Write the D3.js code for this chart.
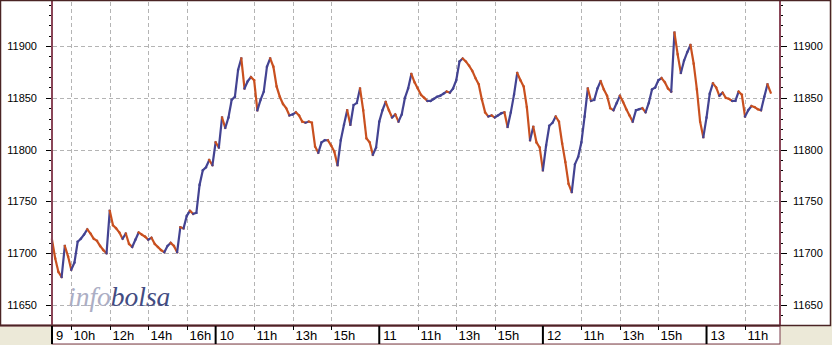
<!DOCTYPE html>
<html>
<head>
<meta charset="utf-8">
<script src="https://cdn.jsdelivr.net/npm/d3@7"></script>
<style>
  body { margin: 0; background: #ece9d8; }
  svg { display: block; }
</style>
</head>
<body>
<script>
// trading days shown and the hour marks under each of them
const dayLabels = ["9", "10", "11", "12", "13"];
const hourTicks = [[10, 12, 14, 16], [11, 13, 15], [11, 13, 15], [11, 13, 15], [11]];
const yTicks = [11650, 11700, 11750, 11800, 11850, 11900];

// 10-minute closes, one array per session (9:00 onwards)
const closes9 = [
  11713, 11695, 11682, 11677, 11707, 11697, 11684, 11691, 11711, 11714,
  11718, 11723, 11719, 11714, 11712, 11707, 11703, 11700, 11741, 11727,
  11724, 11720, 11714, 11719, 11709, 11706, 11713, 11720, 11718, 11716,
  11713, 11715, 11709, 11706, 11703, 11701, 11707, 11710, 11707, 11701,
  11725, 11724, 11736, 11741, 11738, 11739, 11766, 11780, 11783, 11790,
  11785
];
const closes10 = [
  11807, 11802, 11831, 11821, 11831, 11848, 11851, 11877, 11888, 11859,
  11866, 11870, 11867, 11838, 11848, 11856, 11880, 11888, 11880, 11861,
  11851, 11844, 11840, 11833, 11834, 11836, 11833, 11827, 11826, 11827,
  11826, 11803, 11797, 11807, 11809, 11809, 11804, 11798, 11785, 11809,
  11824, 11838, 11824, 11843, 11845, 11859, 11838, 11811, 11807, 11795,
  11802
];
const closes11 = [
  11827, 11838, 11846, 11838, 11831, 11834, 11827, 11834, 11850, 11859,
  11873, 11865, 11859, 11853, 11850, 11847, 11847, 11849, 11851, 11852,
  11854, 11856, 11855, 11859, 11867, 11885, 11888, 11885, 11881, 11876,
  11869, 11863, 11848, 11836, 11832, 11833, 11831, 11833, 11835, 11836,
  11822, 11836, 11853, 11874, 11867, 11861, 11841, 11809, 11822, 11807,
  11802
];
const closes12 = [
  11780, 11804, 11823, 11826, 11832, 11827, 11806, 11788, 11767, 11759,
  11786, 11793, 11807, 11832, 11859, 11847, 11848, 11859, 11866, 11858,
  11852, 11840, 11838, 11845, 11852, 11846, 11839, 11833, 11827, 11838,
  11839, 11840, 11836, 11845, 11858, 11860, 11867, 11869, 11865, 11859,
  11856, 11913, 11892, 11874, 11886, 11894, 11901, 11883, 11858, 11827,
  11812
];
const closes13 = [
  11831, 11854, 11864, 11860, 11852, 11855, 11850, 11849, 11847, 11847,
  11856, 11853, 11832, 11838, 11842, 11841, 11839, 11838, 11851, 11863,
  11855
];

const sessions = [closes9, closes10, closes11, closes12, closes13];
const sessionMinutes = 510;   // 9:00 - 17:30
const stepMinutes = 10;
const visibleMinutes = 2269;

const W = 832, H = 345;
const plotL = 52, plotR = 780, plotT = 2, plotB = 325;

const x = d3.scaleLinear().domain([0, visibleMinutes]).range([plotL, plotR]);
const y = d3.scaleLinear().domain([11630.7, 11942.5]).range([plotB, plotT]);

const points = [];
sessions.forEach((arr, d) => {
  arr.forEach((v, k) => points.push({ m: d * sessionMinutes + k * stepMinutes, v: v }));
});

const svg = d3.select("body").append("svg").attr("width", W).attr("height", H);

// panels
svg.append("rect").attr("x", 0).attr("y", 0).attr("width", 831).attr("height", 326).attr("fill", "#fff");
svg.append("rect").attr("x", plotL).attr("y", 326).attr("width", plotR - plotL).attr("height", 18)
  .attr("fill", "#fff").attr("stroke", "#7a3b4b").attr("stroke-width", 1);

// grid
const grid = svg.append("g").attr("stroke", "#b4b4b4").attr("stroke-dasharray", "4,3");
yTicks.forEach(t => {
  grid.append("line").attr("x1", plotL + 1).attr("x2", plotR - 1)
    .attr("y1", Math.round(y(t)) + 0.5).attr("y2", Math.round(y(t)) + 0.5);
});
hourTicks.forEach((hs, d) => hs.forEach(h => {
  const xx = Math.round(x(d * sessionMinutes + (h - 9) * 60)) + 0.5;
  grid.append("line").attr("x1", xx).attr("x2", xx).attr("y1", plotT).attr("y2", plotB);
}));

// logo
const logo = svg.append("text").attr("x", 68).attr("y", 306)
  .style("font-family", "'Liberation Serif', serif").style("font-size", "27.5px").style("font-style", "italic");
logo.append("tspan").attr("fill", "#acaec4").text("info");
logo.append("tspan").attr("fill", "#434c82").text("bolsa");

// price trace, blue when rising, red when falling
const trace = svg.append("g").attr("stroke-width", 2.2).attr("stroke-linecap", "square");
for (let i = 1; i < points.length; i++) {
  const a = points[i - 1], b = points[i];
  trace.append("line")
    .attr("x1", x(a.m)).attr("y1", y(a.v))
    .attr("x2", x(b.m)).attr("y2", y(b.v))
    .attr("stroke", b.v >= a.v ? "#434392" : "#c9501f");
}

// value axes
const fmt = d3.format("d");
const minor = d3.range(11640, 11941, 10);
const axes = svg.append("g").attr("stroke", "#000");
minor.forEach(t => {
  const yy = Math.round(y(t)) + 0.5;
  const major = t % 50 === 0;
  axes.append("line").attr("x1", plotL - (major ? 6 : 3)).attr("x2", plotL).attr("y1", yy).attr("y2", yy);
  axes.append("line").attr("x1", plotR).attr("x2", plotR + (major ? 7 : 3)).attr("y1", yy).attr("y2", yy);
});
const labels = svg.append("g").style("font-family", "'Liberation Sans', Arial, sans-serif")
  .style("font-size", "11px").attr("fill", "#000");
yTicks.forEach(t => {
  labels.append("text").attr("x", 37).attr("y", y(t)).attr("dy", "0.36em")
    .attr("text-anchor", "end").text(fmt(t));
  labels.append("text").attr("x", 793).attr("y", y(t)).attr("dy", "0.36em").text(fmt(t));
});

// frame lines
svg.append("line").attr("x1", plotL).attr("x2", plotL).attr("y1", 0).attr("y2", 326)
  .attr("stroke", "#8a4658").attr("stroke-width", 2);
svg.append("line").attr("x1", plotR).attr("x2", plotR).attr("y1", 0).attr("y2", 326)
  .attr("stroke", "#8a4658").attr("stroke-width", 2);
svg.append("line").attr("x1", 0).attr("x2", plotR).attr("y1", 325.5).attr("y2", 325.5)
  .attr("stroke", "#7a3b4b").attr("stroke-width", 2);
svg.append("line").attr("x1", plotR).attr("x2", 831).attr("y1", 325.5).attr("y2", 325.5)
  .attr("stroke", "#a08080").attr("stroke-width", 1);
svg.append("rect").attr("x", 0.5).attr("y", 0.5).attr("width", 830).attr("height", 325)
  .attr("fill", "none").attr("stroke", "#4a2424").attr("stroke-width", 1.5);

// time axis
const tAxis = svg.append("g").style("font-family", "'Liberation Sans', Arial, sans-serif")
  .style("font-size", "13px").attr("fill", "#000");
dayLabels.forEach((lab, d) => {
  const xx = x(d * sessionMinutes);
  tAxis.append("line").attr("x1", xx).attr("x2", xx).attr("y1", 326).attr("y2", 344)
    .attr("stroke", "#000").attr("stroke-width", 2);
  tAxis.append("text").attr("x", xx + 4).attr("y", 340).text(lab);
  hourTicks[d].forEach(h => {
    const hx = Math.round(x(d * sessionMinutes + (h - 9) * 60)) + 0.5;
    tAxis.append("line").attr("x1", hx).attr("x2", hx).attr("y1", 326).attr("y2", 330)
      .attr("stroke", "#000");
    tAxis.append("text").attr("x", hx + 2).attr("y", 340).text(h + "h");
  });
});
</script>
</body>
</html>
